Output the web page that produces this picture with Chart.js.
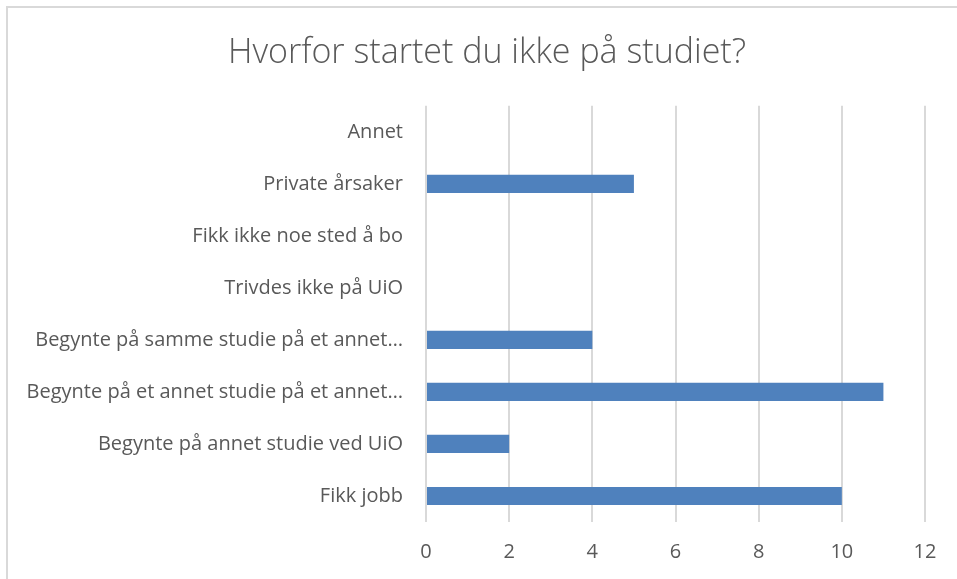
<!DOCTYPE html>
<html>
<head>
<meta charset="utf-8">
<script src="https://cdn.jsdelivr.net/npm/chart.js@4"></script>
<style>
  body { margin: 0; background: #fff; }
  #wrap { position: absolute; left: 6px; top: 6px; width: 951px; height: 573px;
          border-left: 2px solid #d9d9d9; border-top: 2px solid #d9d9d9; }
</style>
</head>
<body>
<div id="wrap"><canvas id="barChart"></canvas></div>
<script>
// categories, top to bottom as in the picture
var categories = [
    'Annet',
    'Private årsaker',
    'Fikk ikke noe sted å bo',
    'Trivdes ikke på UiO',
    'Begynte på samme studie på et annet…',
    'Begynte på et annet studie på et annet…',
    'Begynte på annet studie ved UiO',
    'Fikk jobb'
];
var counts = [0, 5, 0, 0, 4, 11, 2, 10];
var xTicks = [0, 2, 4, 6, 8, 10, 12];

var textColor = '#595959';

// the original title sits a bit right of the canvas centre
var shiftTitle = {
    id: 'shiftTitle',
    afterLayout: function(chart) {
        if (chart.titleBlock) chart.titleBlock.left = 41;
    }
};

var ctx = document.getElementById('barChart').getContext('2d');
var myChart = new Chart(ctx, {
    type: 'bar',
    data: {
        labels: categories,
        datasets: [{
            data: counts,
            backgroundColor: '#4f81bd',
            borderWidth: 0,
            categoryPercentage: 1,
            barPercentage: 0.35
        }]
    },
    options: {
        indexAxis: 'y',
        responsive: true,
        maintainAspectRatio: false,
        animation: false,
        layout: { padding: { left: 0, right: 34, top: 0, bottom: 0 } },
        plugins: {
            legend: { display: false },
            tooltip: { enabled: false },
            title: {
                display: true,
                text: 'Hvorfor startet du ikke på studiet?',
                color: textColor,
                font: { family: 'Open Sans', size: 34, weight: '300' },
                padding: { top: 25, bottom: 32 }
            }
        },
        scales: {
            x: {
                min: 0,
                max: 12,
                afterBuildTicks: function(axis) {
                    axis.ticks = xTicks.map(function(v) { return { value: v }; });
                },
                afterFit: function(axis) { axis.height = 59; },
                grid: { color: '#d9d9d9', lineWidth: 2, drawTicks: false },
                border: { display: false },
                ticks: {
                    color: textColor,
                    padding: 18,
                    font: { family: 'Open Sans', size: 20 }
                }
            },
            y: {
                afterFit: function(axis) { axis.width = 418; },
                grid: { display: false, drawTicks: false },
                border: { display: false },
                ticks: {
                    color: textColor,
                    padding: 23,
                    autoSkip: false,
                    font: { family: 'Open Sans', size: 20 }
                }
            }
        }
    },
    plugins: [shiftTitle]
});
</script>
</body>
</html>
